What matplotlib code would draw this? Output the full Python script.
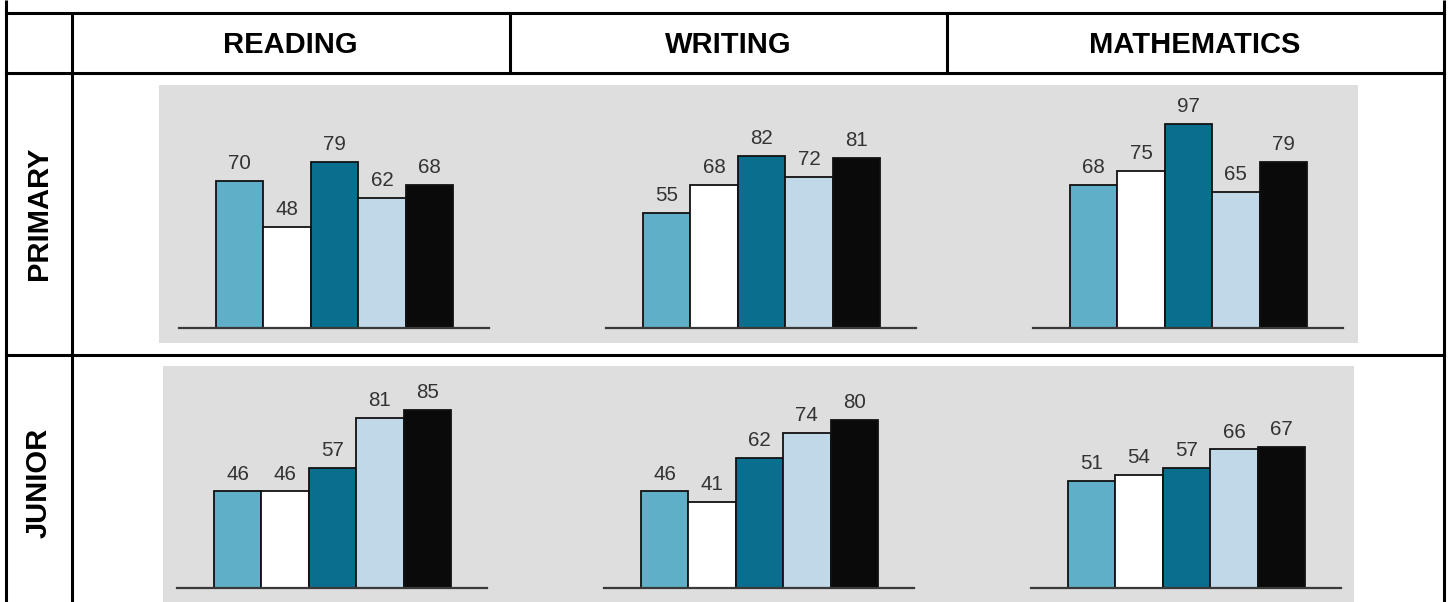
import matplotlib
matplotlib.use("Agg")
import matplotlib.pyplot as plt
from matplotlib.patches import Rectangle

plt.rcParams["font.family"] = ["Liberation Sans", "DejaVu Sans"]

# ── Data ─────────────────────────────────────────────────────────────────────
subjects = ["READING", "WRITING", "MATHEMATICS"]
levels = ["PRIMARY", "JUNIOR"]

primary_reading = [70, 48, 79, 62, 68]
primary_writing = [55, 68, 82, 72, 81]
primary_math = [68, 75, 97, 65, 79]
junior_reading = [46, 46, 57, 81, 85]
junior_writing = [46, 41, 62, 74, 80]
junior_math = [51, 54, 57, 66, 67]

bar_colors = ["#5FAFC8", "#FFFFFF", "#0A6F8F", "#C0D8E8", "#0A0A0A"]

# ── Page layout (pixels) ─────────────────────────────────────────────────────
W, H = 1448, 602
LINE = "#000000"
LW_TABLE = 2.2
GRAY = "#DEDEDE"
PX_PER_UNIT = 2.1
BAR_W_PX = 47.4

fig = plt.figure(figsize=(W / 100, H / 100), dpi=100)
fig.patch.set_facecolor("white")

bg = fig.add_axes([0, 0, 1, 1])
bg.set_xlim(0, W)
bg.set_ylim(H, 0)
bg.axis("off")

# grey panels behind each row of charts
bg.add_patch(Rectangle((159, 85), 1358 - 159, 343 - 85, facecolor=GRAY, edgecolor="none"))
bg.add_patch(Rectangle((163, 366), 1354 - 163, H - 366, facecolor=GRAY, edgecolor="none"))

# table grid
def hline(y, x0, x1):
    bg.plot([x0, x1], [y, y], color=LINE, lw=LW_TABLE, solid_capstyle="projecting")

def vline(x, y0, y1):
    bg.plot([x, x], [y0, y1], color=LINE, lw=LW_TABLE, solid_capstyle="butt")

vline(5.5, 0, H)
vline(1444, 0, H)
vline(71.5, 12.5, H)
vline(509.5, 12.5, 72.5)
vline(946.5, 12.5, 72.5)
hline(12.5, 5.5, 1444)
hline(72.5, 5.5, 1444)
hline(355, 5.5, 1444)

# column headers
header_x = [290.5, 728, 1195]
for x, name in zip(header_x, subjects):
    bg.text(x, 53, name, ha="center", va="baseline", fontsize=21,
            fontweight="bold", color="black")

# row headers
row_y = [213.5, 483]
for y, name in zip(row_y, levels):
    bg.text(47, y, name, rotation=90, rotation_mode="anchor", ha="center",
            va="baseline", fontsize=21, fontweight="bold", color="black")

# ── Bar charts ───────────────────────────────────────────────────────────────
charts = [
    [primary_reading, primary_writing, primary_math],
    [junior_reading, junior_writing, junior_math],
]
baseline_y = [328, 588]
bar_start_x = [[216, 643, 1070], [214, 641, 1068]]
pad_left, pad_right = 37, 36
ytop = 105

for r, row in enumerate(charts):
    for c, values in enumerate(row):
        x0 = bar_start_x[r][c] - pad_left
        wpx = pad_left + 5 * BAR_W_PX + pad_right
        hpx = ytop * PX_PER_UNIT
        ax = fig.add_axes([x0 / W, (H - baseline_y[r]) / H, wpx / W, hpx / H])
        ax.patch.set_visible(False)
        ax.axis("off")
        ax.set_xlim(-0.5 - pad_left / BAR_W_PX, 4.5 + pad_right / BAR_W_PX)
        ax.set_ylim(0, ytop)

        xs = range(len(values))
        ax.bar(xs, values, width=1.0, color=bar_colors, edgecolor="#111111",
               linewidth=1.3, zorder=2, clip_on=False)
        ax.axhline(0, color="#3A3A3A", lw=1.6, zorder=3, clip_on=False)
        for x, v in zip(xs, values):
            ax.annotate(str(v), (x, v), xytext=(0, 8.5), textcoords="offset points",
                        ha="center", va="baseline", fontsize=14.8, color="#333333",
                        annotation_clip=False)

fig.savefig("out.png", dpi=100, facecolor="white")
